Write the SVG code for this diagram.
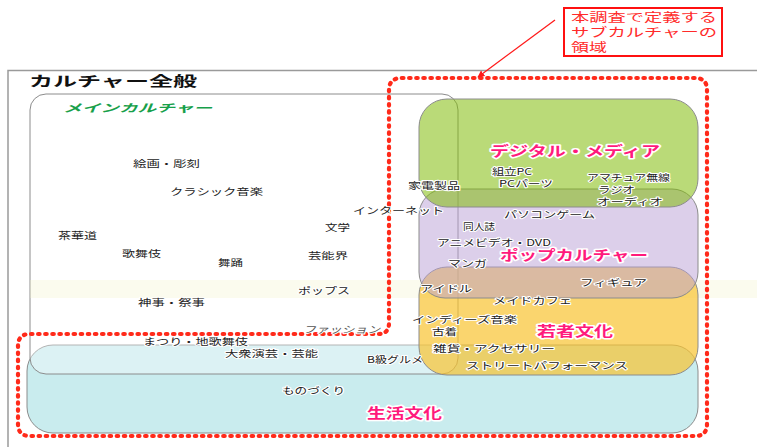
<svg xmlns="http://www.w3.org/2000/svg" width="757" height="447" viewBox="0 0 757 447">
<defs>
<marker id="ah" viewBox="0 0 10 10" refX="9" refY="5" markerWidth="7" markerHeight="7" orient="auto" markerUnits="userSpaceOnUse">
<path d="M0,0 L10,5 L0,10 z" fill="#ff1a1a"/>
</marker>
<style>
text{font-family:"Noto Sans CJK JP","Liberation Sans",sans-serif;}
.lb{font-size:9.5px;fill:#222;stroke:#fff;stroke-width:2;stroke-linejoin:round;paint-order:stroke;}
.mg{font-size:14px;font-weight:bold;fill:#ff1a7c;stroke:#fff;stroke-width:3;stroke-linejoin:round;paint-order:stroke;}
.cl{font-size:12px;fill:#ff2a2a;}
.box{stroke:#8c8c8c;stroke-width:1;}
</style>
</defs>
<rect width="757" height="447" fill="#fff"/>
<g id="outer">
<path d="M8,447 V70.5 H757" fill="none" stroke="#9a9a9a" stroke-width="1.5"/>
<text x="29" y="86" font-size="14" font-weight="bold" fill="#111" textLength="168" lengthAdjust="spacingAndGlyphs">カルチャー全般</text>
</g>
<g id="life">
<rect x="27" y="345" width="671" height="88" rx="26" fill="#c9ecee" class="box"/>
</g>
<g id="main">
<rect x="30" y="94" width="428" height="280" rx="16" fill="#fff" fill-opacity="0.35" class="box"/>
<rect x="30" y="280" width="727" height="18" fill="#f3f3c8" opacity="0.3"/>
<text x="63" y="112" font-size="11" font-weight="bold" font-style="italic" fill="#17a04a" textLength="149" lengthAdjust="spacingAndGlyphs">メインカルチャー</text>
</g>
<g id="youth">
<rect x="419" y="267" width="279" height="108" rx="28" fill="#f8c330" fill-opacity="0.7" class="box"/>
</g>
<g id="pop">
<rect x="419" y="189" width="279" height="109" rx="26" fill="#b99fd5" fill-opacity="0.5" class="box"/>
</g>
<g id="digital">
<rect x="419" y="99" width="279" height="108" rx="28" fill="#82bc0a" fill-opacity="0.55" class="box"/>
</g>
<g id="connectors">
<path d="M402,78 H695 Q707,78 707,90 V424 Q707,436 695,436 H30 Q18,436 18,424 V346 Q18,334 30,334 H378 Q389,334 389,323 V90 Q389,78 402,78 Z" fill="none" stroke="#ff2a1a" stroke-width="4.2" stroke-dasharray="1.5 5.6" stroke-linecap="round"/>
<line x1="555" y1="20" x2="478" y2="77" stroke="#ff1a1a" stroke-width="1.3" marker-end="url(#ah)"/>
</g>
<g id="callout">
<rect x="564" y="8" width="158" height="48" fill="#fff" stroke="#ff1010" stroke-width="2"/>
<text class="cl" x="571" y="22" textLength="146" lengthAdjust="spacingAndGlyphs">本調査で定義する</text>
<text class="cl" x="571" y="37" textLength="146" lengthAdjust="spacingAndGlyphs">サブカルチャーの</text>
<text class="cl" x="571" y="52" textLength="36" lengthAdjust="spacingAndGlyphs">領域</text>
</g>
<g id="labels">
<text class="lb" x="133" y="167" textLength="67" lengthAdjust="spacingAndGlyphs">絵画・彫刻</text>
<text class="lb" x="170" y="195" textLength="93" lengthAdjust="spacingAndGlyphs">クラシック音楽</text>
<text class="lb" x="353" y="214" textLength="91" lengthAdjust="spacingAndGlyphs">インターネット</text>
<text class="lb" x="325" y="231" textLength="25" lengthAdjust="spacingAndGlyphs">文学</text>
<text class="lb" x="58" y="239" textLength="39" lengthAdjust="spacingAndGlyphs">茶華道</text>
<text class="lb" x="122" y="257" textLength="39" lengthAdjust="spacingAndGlyphs">歌舞伎</text>
<text class="lb" x="218" y="266" textLength="25" lengthAdjust="spacingAndGlyphs">舞踊</text>
<text class="lb" x="308" y="259" textLength="40" lengthAdjust="spacingAndGlyphs">芸能界</text>
<text class="lb" x="298" y="294" textLength="52" lengthAdjust="spacingAndGlyphs">ポップス</text>
<text class="lb" x="138" y="306" textLength="67" lengthAdjust="spacingAndGlyphs">神事・祭事</text>
<text class="lb" x="303" y="333" textLength="77" lengthAdjust="spacingAndGlyphs" font-style="italic" style="fill:#555">ファッション</text>
<text class="lb" x="143" y="345" textLength="105" lengthAdjust="spacingAndGlyphs">まつり・地歌舞伎</text>
<text class="lb" x="225" y="357" textLength="93" lengthAdjust="spacingAndGlyphs">大衆演芸・芸能</text>
<text class="lb" x="282" y="394" textLength="63" lengthAdjust="spacingAndGlyphs">ものづくり</text>
<text class="lb" x="367" y="363" textLength="56" lengthAdjust="spacingAndGlyphs">B級グルメ</text>
<text class="lb" x="408" y="189" textLength="52" lengthAdjust="spacingAndGlyphs">家電製品</text>
<text class="lb" x="492" y="175" textLength="40" lengthAdjust="spacingAndGlyphs">組立PC</text>
<text class="lb" x="499" y="187" textLength="54" lengthAdjust="spacingAndGlyphs">PCパーツ</text>
<text class="lb" x="587" y="181" textLength="83" lengthAdjust="spacingAndGlyphs">アマチュア無線</text>
<text class="lb" x="598" y="193" textLength="37" lengthAdjust="spacingAndGlyphs">ラジオ</text>
<text class="lb" x="597" y="205" textLength="66" lengthAdjust="spacingAndGlyphs">オーディオ</text>
<text class="lb" x="504" y="218" textLength="91" lengthAdjust="spacingAndGlyphs">パソコンゲーム</text>
<text class="lb" x="463" y="230" textLength="32" lengthAdjust="spacingAndGlyphs">同人誌</text>
<text class="lb" x="437" y="246" textLength="114" lengthAdjust="spacingAndGlyphs">アニメビデオ・DVD</text>
<text class="lb" x="448" y="267" textLength="39" lengthAdjust="spacingAndGlyphs">マンガ</text>
<text class="lb" x="580" y="286" textLength="67" lengthAdjust="spacingAndGlyphs">フィギュア</text>
<text class="lb" x="420" y="292" textLength="52" lengthAdjust="spacingAndGlyphs">アイドル</text>
<text class="lb" x="493" y="304" textLength="79" lengthAdjust="spacingAndGlyphs">メイドカフェ</text>
<text class="lb" x="412" y="323" textLength="105" lengthAdjust="spacingAndGlyphs">インディーズ音楽</text>
<text class="lb" x="432" y="335" textLength="25" lengthAdjust="spacingAndGlyphs">古着</text>
<text class="lb" x="433" y="352" textLength="122" lengthAdjust="spacingAndGlyphs">雑貨・アクセサリー</text>
<text class="lb" x="466" y="369" textLength="162" lengthAdjust="spacingAndGlyphs">ストリートパフォーマンス</text>
<text class="mg" x="490" y="156" textLength="170" lengthAdjust="spacingAndGlyphs">デジタル・メディア</text>
<text class="mg" x="500" y="260" textLength="148" lengthAdjust="spacingAndGlyphs">ポップカルチャー</text>
<text class="mg" x="537" y="336" textLength="76" lengthAdjust="spacingAndGlyphs">若者文化</text>
<text class="mg" x="367" y="418" textLength="75" lengthAdjust="spacingAndGlyphs">生活文化</text>
</g>
</svg>
